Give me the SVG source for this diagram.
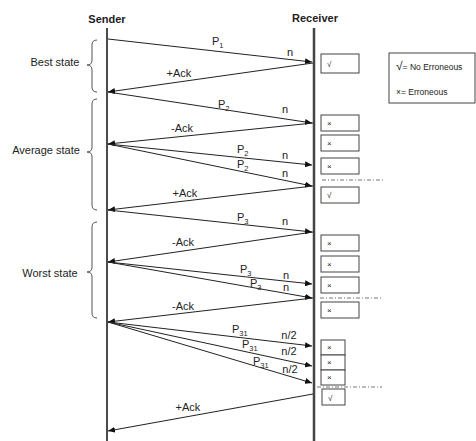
<svg xmlns="http://www.w3.org/2000/svg" width="476" height="441" viewBox="0 0 476 441">
<defs>
<style>
text{font-family:"Liberation Sans",Arial,sans-serif;font-size:11px;fill:#222}
.hd{font-weight:bold;font-size:11px;text-anchor:middle}
.st{font-size:11px;text-anchor:middle}
.lb{font-size:11px;text-anchor:middle}
.sub{font-size:7.5px}
.bx{fill:#fff;stroke:#444;stroke-width:1}
.mk{font-size:8px}
.ln{stroke:#222;stroke-width:1;fill:none}
.dash{stroke:#777;stroke-width:1;stroke-dasharray:4 2 1 2;fill:none}
.brace{stroke:#555;stroke-width:1;fill:none}
</style>
<marker id="ah" markerUnits="userSpaceOnUse" markerWidth="7" markerHeight="6" refX="7" refY="3" orient="auto">
<path d="M0,0 L7,3 L0,6 z" fill="#111"/>
</marker>
</defs>
<rect width="476" height="441" fill="#fff"/>

<g id="sender">
<text class="hd" x="107" y="23">Sender</text>
<line x1="107" y1="28" x2="107" y2="441" stroke="#111" stroke-width="1.5"/>
</g>
<g id="receiver">
<text class="hd" x="315" y="22">Receiver</text>
<line x1="314" y1="28" x2="314" y2="441" stroke="#444" stroke-width="2.5"/>
</g>

<g id="best-state">
<path class="brace" d="M97,40 Q92,40 92,45 L92,60 Q92,65 87,65 Q92,65 92,70 L92,87 Q92,92 97,92"/>
<text class="st" x="55" y="66">Best state</text>
</g>
<g id="average-state">
<path class="brace" d="M97,99 Q92,99 92,104 L92,147 Q92,152 87,152 Q92,152 92,157 L92,205 Q92,210 97,210"/>
<text class="st" x="46" y="154">Average state</text>
</g>
<g id="worst-state">
<path class="brace" d="M97,222 Q92,222 92,227 L92,267 Q92,272 87,272 Q92,272 92,277 L92,313 Q92,318 97,318"/>
<text class="st" x="50" y="277">Worst state</text>
</g>

<g id="connectors">
<line class="ln" x1="108" y1="39" x2="312" y2="62" marker-end="url(#ah)"/>
<line class="ln" x1="313" y1="63" x2="108" y2="92" marker-end="url(#ah)"/>
<line class="ln" x1="108" y1="92" x2="312" y2="123" marker-end="url(#ah)"/>
<line class="ln" x1="313" y1="123" x2="108" y2="144" marker-end="url(#ah)"/>
<line class="ln" x1="108" y1="144" x2="312" y2="165" marker-end="url(#ah)"/>
<line class="ln" x1="108" y1="144" x2="312" y2="186" marker-end="url(#ah)"/>
<line class="ln" x1="313" y1="186" x2="108" y2="210" marker-end="url(#ah)"/>
<line class="ln" x1="108" y1="210" x2="312" y2="232" marker-end="url(#ah)"/>
<line class="ln" x1="313" y1="232" x2="108" y2="262" marker-end="url(#ah)"/>
<line class="ln" x1="108" y1="262" x2="312" y2="284" marker-end="url(#ah)"/>
<line class="ln" x1="108" y1="262" x2="312" y2="298" marker-end="url(#ah)"/>
<line class="ln" x1="313" y1="298" x2="108" y2="322" marker-end="url(#ah)"/>
<line class="ln" x1="108" y1="322" x2="312" y2="346" marker-end="url(#ah)"/>
<line class="ln" x1="108" y1="322" x2="312" y2="366" marker-end="url(#ah)"/>
<line class="ln" x1="108" y1="322" x2="312" y2="383" marker-end="url(#ah)"/>
<line class="ln" x1="313" y1="394" x2="108" y2="431" marker-end="url(#ah)"/>
</g>

<g id="labels">
<text x="212" y="45">P<tspan class="sub" dy="3">1</tspan></text>
<text class="lb" x="290" y="56">n</text>
<text class="lb" x="179" y="77">+Ack</text>
<text x="218" y="108">P<tspan class="sub" dy="3">2</tspan></text>
<text class="lb" x="285" y="113">n</text>
<text class="lb" x="182" y="132">-Ack</text>
<text x="237" y="153">P<tspan class="sub" dy="3">2</tspan></text>
<text class="lb" x="285" y="159">n</text>
<text x="237" y="168">P<tspan class="sub" dy="3">2</tspan></text>
<text class="lb" x="285" y="177">n</text>
<text class="lb" x="185" y="197">+Ack</text>
<text x="237" y="221">P<tspan class="sub" dy="3">3</tspan></text>
<text class="lb" x="285" y="225">n</text>
<text class="lb" x="183" y="246">-Ack</text>
<text x="240" y="273">P<tspan class="sub" dy="3">3</tspan></text>
<text class="lb" x="286" y="279">n</text>
<text x="250" y="287">P<tspan class="sub" dy="3">3</tspan></text>
<text class="lb" x="286" y="291">n</text>
<text class="lb" x="183" y="310">-Ack</text>
<text x="232" y="333">P<tspan class="sub" dy="3">31</tspan></text>
<text class="lb" x="289" y="339">n/2</text>
<text x="242" y="348">P<tspan class="sub" dy="3">31</tspan></text>
<text class="lb" x="289" y="355">n/2</text>
<text x="253" y="365">P<tspan class="sub" dy="3">31</tspan></text>
<text class="lb" x="290" y="373">n/2</text>
<text class="lb" x="188" y="411">+Ack</text>
</g>

<g id="receiver-status">
<rect class="bx" x="321" y="54" width="38" height="19"/><text class="mk" x="327" y="67">√</text>
<rect class="bx" x="321" y="115" width="38" height="16"/><text class="mk" x="327" y="126">×</text>
<rect class="bx" x="321" y="135" width="38" height="16"/><text class="mk" x="327" y="146">×</text>
<rect class="bx" x="321" y="158" width="38" height="16"/><text class="mk" x="327" y="169">×</text>
<line class="dash" x1="322" y1="180" x2="383" y2="180"/>
<rect class="bx" x="321" y="187" width="38" height="16"/><text class="mk" x="327" y="198">√</text>
<rect class="bx" x="321" y="235" width="38" height="16"/><text class="mk" x="327" y="246">×</text>
<rect class="bx" x="321" y="256" width="38" height="16"/><text class="mk" x="327" y="267">×</text>
<rect class="bx" x="321" y="277" width="38" height="16"/><text class="mk" x="327" y="288">×</text>
<line class="dash" x1="320" y1="298" x2="382" y2="298"/>
<rect class="bx" x="321" y="302" width="38" height="16"/><text class="mk" x="327" y="313">×</text>
<rect class="bx" x="321" y="340" width="24" height="15"/><text class="mk" x="327" y="350">×</text>
<rect class="bx" x="321" y="355" width="24" height="15"/><text class="mk" x="327" y="365">×</text>
<rect class="bx" x="321" y="370" width="24" height="15"/><text class="mk" x="327" y="380">×</text>
<line class="dash" x1="317" y1="387" x2="382" y2="387"/>
<rect class="bx" x="322" y="389" width="23" height="16"/><text class="mk" x="328" y="401">√</text>
</g>

<g id="legend">
<rect class="bx" x="389" y="53" width="86" height="50"/>
<text x="396" y="70" style="font-size:12px">√<tspan style="font-size:8.5px">= No Erroneous</tspan></text>
<text x="396" y="95" style="font-size:8.5px">×= Erroneous</text>
</g>
</svg>
